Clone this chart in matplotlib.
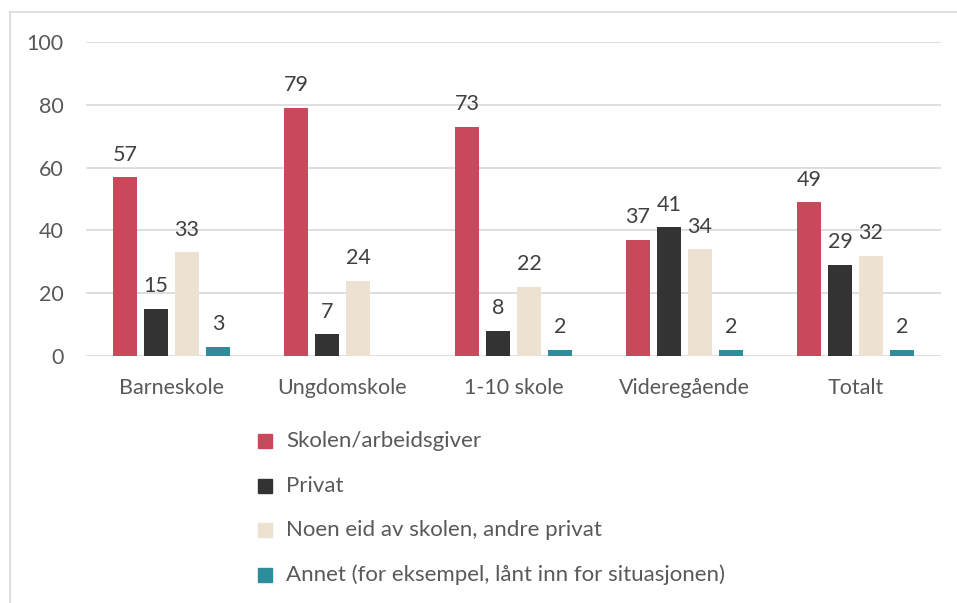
import matplotlib.pyplot as plt
import numpy as np
from matplotlib.lines import Line2D
from matplotlib.patches import Rectangle

categories = ['Barneskole', 'Ungdomskole', '1-10 skole', 'Videregående', 'Totalt']
series = ['Skolen/arbeidsgiver', 'Privat', 'Noen eid av skolen, andre privat',
          'Annet (for eksempel, lånt inn for situasjonen)']
skolen = [57, 79, 73, 37, 49]
privat = [15, 7, 8, 41, 29]
noen = [33, 24, 22, 34, 32]
annet = [3, np.nan, 2, 2, 2]
colors = ['#C9485B', '#333333', '#EDE1D1', '#2E8D9D']

plt.rcParams['font.family'] = ['Lato', 'DejaVu Sans']
txt = '#595959'
fs = 15.5

fig = plt.figure(figsize=(9.57, 6.03), dpi=100)
ax = fig.add_axes([86 / 957, 1 - 356 / 603, 855 / 957, 314 / 603])

x = np.arange(len(categories))
w = 0.14
step = 0.181
for i, (vals, c) in enumerate(zip([skolen, privat, noen, annet], colors)):
    pos = x + (i - 1.5) * step
    ax.bar(pos, vals, width=w, color=c, zorder=3)
    for p, v in zip(pos, vals):
        if not np.isnan(v):
            ax.annotate(f'{v:.0f}', (p, v), xytext=(0, 9), textcoords='offset points',
                        ha='center', va='bottom', fontsize=fs, color='#404040')

ax.set_xlim(-0.5, len(categories) - 0.5)
ax.set_ylim(0, 100)
ax.set_yticks(range(0, 101, 20))
ax.set_xticks(x)
ax.set_xticklabels(categories)
ax.grid(axis='y', color='#D9D9D9', linewidth=1.2, zorder=0)
for s in ax.spines.values():
    s.set_visible(False)
ax.tick_params(axis='both', length=0, labelsize=fs, colors=txt)
ax.tick_params(axis='y', pad=16)
ax.tick_params(axis='x', pad=16)

# legend entries stacked under the chart
leg_y = [441, 486, 530, 575]
for lab, c, yy in zip(series, colors, leg_y):
    fig.add_artist(Rectangle((258 / 957, 1 - (yy + 7) / 603), 14 / 957, 14 / 603,
                             transform=fig.transFigure, color=c))
    fig.text(286 / 957, 1 - yy / 603, lab, fontsize=16, color=txt, va='center', ha='left')

# outer chart border (cropped at right and bottom)
fig.add_artist(Line2D([10 / 957, 10 / 957], [0, 1 - 12 / 603], color='#D9D9D9', lw=1.2))
fig.add_artist(Line2D([10 / 957, 1], [1 - 12 / 603, 1 - 12 / 603], color='#D9D9D9', lw=1.2))

fig.savefig('out.png', dpi=100)
